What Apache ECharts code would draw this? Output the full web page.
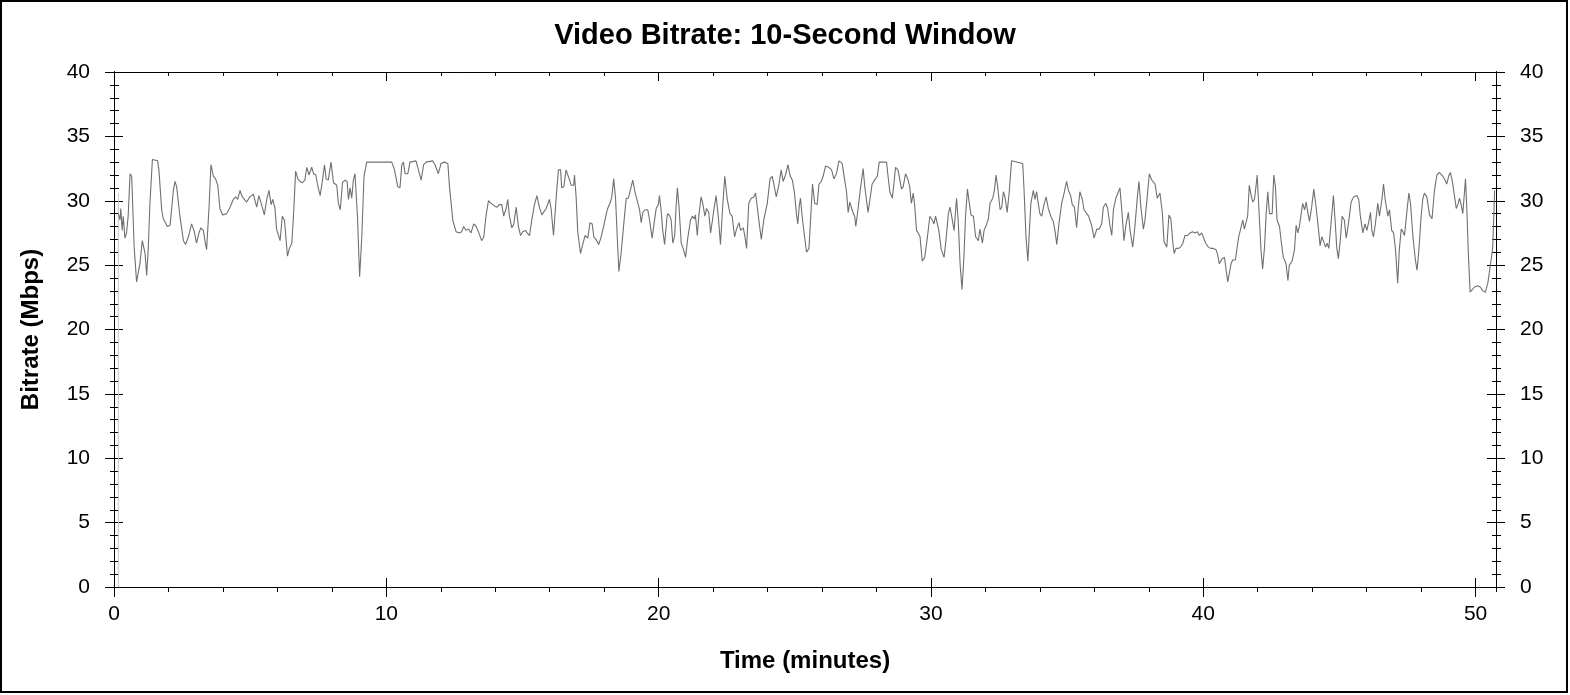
<!DOCTYPE html>
<html>
<head>
<meta charset="utf-8">
<script src="https://cdn.jsdelivr.net/npm/echarts@6/dist/echarts.min.js"></script>
<style>
html,body{margin:0;padding:0;background:#fff;}
#chart{width:1570px;height:695px;}
</style>
</head>
<body>
<div id="chart"></div>
<script>
// Bitrate (Mbps) vs time (minutes)
const seg0to10 = [[0.16,29.0],[0.22,28.5],[0.25,29.4],[0.30,27.7],[0.34,28.8],[0.40,27.1],[0.46,27.5],[0.52,28.8],[0.59,32.1],[0.65,31.9],[0.74,26.4],[0.83,23.7],[0.95,25.1],[1.04,26.9],[1.14,25.9],[1.20,24.2],[1.26,26.4],[1.32,29.8],[1.41,33.2],[1.60,33.1],[1.65,32.4],[1.75,29.3],[1.81,28.6],[1.87,28.5],[1.96,28.0],[2.06,28.1],[2.18,30.8],[2.24,31.5],[2.30,31.1],[2.42,28.8],[2.55,26.9],[2.63,26.6],[2.73,27.2],[2.85,28.2],[2.95,27.6],[3.03,26.7],[3.12,27.5],[3.19,27.9],[3.28,27.7],[3.34,26.9],[3.40,26.2],[3.49,29.5],[3.56,32.8],[3.65,31.9],[3.73,31.7],[3.81,31.2],[3.89,29.4],[3.99,28.9],[4.14,29.0],[4.26,29.5],[4.38,30.1],[4.47,30.3],[4.54,30.1],[4.63,30.8],[4.69,30.4],[4.75,30.2],[4.87,29.9],[4.99,30.3],[5.12,30.5],[5.24,29.5],[5.32,30.4],[5.42,29.7],[5.52,28.9],[5.61,30.1],[5.69,30.8],[5.77,29.7],[5.83,30.1],[5.91,29.4],[5.97,27.8],[6.10,26.9],[6.18,28.8],[6.26,28.5],[6.37,25.7],[6.44,26.3],[6.53,26.7],[6.59,28.8],[6.67,32.3],[6.75,31.7],[6.83,31.5],[6.92,31.4],[7.01,31.6],[7.08,32.6],[7.16,32.0],[7.26,32.6],[7.33,32.1],[7.41,32.0],[7.50,31.0],[7.57,30.4],[7.65,31.5],[7.73,32.8],[7.79,31.7],[7.87,31.6],[7.97,33.0],[8.06,31.4],[8.18,31.2],[8.24,29.8],[8.31,29.3],[8.39,31.4],[8.48,31.6],[8.56,31.5],[8.61,30.1],[8.67,31.0],[8.73,30.2],[8.79,31.6],[8.85,32.1],[8.94,28.8],[9.02,24.1],[9.10,27.2],[9.18,31.9],[9.28,33.0],[10.20,33.0]];
const seg10to20 = [[10.30,32.4],[10.42,31.1],[10.50,31.0],[10.57,32.8],[10.63,33.0],[10.69,32.1],[10.79,32.1],[10.87,33.0],[11.09,33.1],[11.18,32.4],[11.28,31.6],[11.37,32.8],[11.46,33.0],[11.70,33.1],[11.79,32.8],[11.91,32.1],[12.01,32.9],[12.13,33.0],[12.26,32.9],[12.32,31.1],[12.44,28.5],[12.56,27.6],[12.68,27.5],[12.77,27.6],[12.84,28.0],[12.93,27.7],[13.02,27.8],[13.11,27.5],[13.21,28.2],[13.30,28.0],[13.38,27.6],[13.50,26.9],[13.58,27.2],[13.66,28.8],[13.75,30.0],[13.85,29.8],[13.97,29.6],[14.07,29.5],[14.15,29.7],[14.24,29.7],[14.31,28.8],[14.40,29.4],[14.46,30.1],[14.52,28.8],[14.61,27.9],[14.68,28.2],[14.77,29.5],[14.85,28.0],[14.93,27.3],[15.01,27.6],[15.10,27.7],[15.17,27.5],[15.26,27.3],[15.34,28.5],[15.44,29.7],[15.53,30.4],[15.62,29.5],[15.71,28.9],[15.78,28.8],[15.87,29.4],[15.93,29.3],[15.99,30.1],[16.05,29.4],[16.14,27.3],[16.24,30.3],[16.32,32.4],[16.40,32.4],[16.44,31.0],[16.52,31.1],[16.60,32.4],[16.73,31.6],[16.79,31.2],[16.88,31.2],[16.91,32.0],[16.97,30.3],[17.03,27.6],[17.13,25.9],[17.21,26.6],[17.30,27.3],[17.40,27.1],[17.48,28.3],[17.56,28.2],[17.62,27.2],[17.70,27.0],[17.80,26.6],[17.89,27.2],[17.99,28.1],[18.07,28.9],[18.13,29.4],[18.23,29.9],[18.28,30.3],[18.35,31.7],[18.42,30.1],[18.48,27.2],[18.54,24.5],[18.62,25.9],[18.72,28.2],[18.81,30.2],[18.89,30.2],[18.97,30.9],[19.05,31.6],[19.14,30.6],[19.24,29.8],[19.30,29.3],[19.36,28.3],[19.42,29.1],[19.50,29.3],[19.60,29.3],[19.66,28.6],[19.76,27.1],[19.85,28.5],[19.91,29.4],[19.99,29.7],[20.03,30.4],[20.09,29.3],[20.15,27.7],[20.22,26.6],[20.31,28.8]];
const seg20to30 = [[20.34,29.0],[20.41,28.8],[20.46,28.5],[20.52,26.7],[20.59,27.3],[20.64,29.5],[20.69,31.0],[20.75,29.5],[20.83,26.7],[20.90,26.3],[20.99,25.6],[21.07,27.1],[21.17,28.5],[21.24,28.8],[21.32,28.6],[21.35,28.9],[21.42,27.3],[21.48,28.9],[21.56,30.3],[21.62,29.8],[21.70,28.8],[21.76,29.4],[21.84,29.1],[21.91,27.5],[21.97,27.6],[22.03,29.3],[22.11,30.4],[22.19,28.8],[22.27,26.6],[22.36,29.8],[22.43,31.9],[22.52,30.1],[22.62,29.0],[22.70,28.8],[22.79,27.2],[22.86,27.8],[22.95,28.3],[23.01,27.7],[23.11,27.9],[23.17,27.2],[23.23,26.3],[23.31,29.8],[23.40,30.2],[23.50,30.3],[23.56,30.6],[23.68,28.5],[23.77,27.0],[23.86,28.5],[23.99,29.8],[24.09,31.7],[24.17,31.9],[24.23,31.3],[24.32,30.3],[24.42,31.3],[24.50,32.4],[24.57,31.5],[24.66,32.0],[24.75,32.8],[24.82,32.0],[24.91,31.6],[24.99,30.6],[25.06,29.0],[25.11,28.2],[25.16,29.5],[25.21,30.2],[25.27,28.8],[25.36,27.2],[25.43,26.0],[25.52,26.3],[25.58,28.5],[25.65,31.3],[25.73,29.8],[25.82,29.7],[25.89,31.3],[25.97,31.5],[26.04,31.9],[26.13,32.7],[26.25,32.6],[26.35,32.4],[26.44,31.7],[26.53,32.1],[26.62,33.1],[26.74,32.9],[26.84,31.5],[26.90,30.7],[26.96,29.1],[27.02,29.9],[27.09,29.4],[27.15,29.0],[27.20,28.8],[27.24,28.0],[27.32,29.3],[27.42,31.1],[27.51,32.5],[27.57,31.1],[27.69,29.1],[27.76,30.1],[27.84,31.3],[27.93,31.6],[28.03,31.9],[28.10,33.0],[28.37,33.0],[28.42,32.0],[28.49,30.7],[28.58,30.2],[28.64,31.3],[28.70,32.6],[28.79,32.4],[28.86,31.6],[28.92,30.9],[28.98,31.1],[29.07,32.1],[29.15,31.7],[29.22,31.1],[29.28,29.8],[29.35,30.6],[29.40,29.7],[29.47,27.7],[29.53,27.5],[29.60,27.2],[29.68,25.3],[29.77,25.6],[29.86,27.0],[29.96,28.8],[30.05,28.5],[30.11,28.2],[30.17,28.8],[30.23,28.8],[30.29,27.7],[30.38,26.2],[30.45,25.8]];
const seg30to40 = [[30.48,25.6],[30.55,26.9],[30.64,29.0],[30.70,29.5],[30.76,28.8],[30.85,27.7],[30.94,30.2],[31.00,28.5],[31.07,25.1],[31.14,23.1],[31.21,25.6],[31.27,28.8],[31.34,30.9],[31.41,29.8],[31.47,28.9],[31.56,28.8],[31.64,27.2],[31.74,26.9],[31.80,27.8],[31.89,26.7],[31.95,27.7],[32.05,28.2],[32.11,28.6],[32.17,29.8],[32.27,30.2],[32.33,30.8],[32.39,32.0],[32.45,31.1],[32.54,29.3],[32.60,29.5],[32.66,30.7],[32.72,30.3],[32.80,29.1],[32.88,30.8],[32.96,33.1],[33.37,32.9],[33.42,30.8],[33.49,27.2],[33.56,25.3],[33.61,27.5],[33.67,29.8],[33.76,30.8],[33.82,30.1],[33.88,30.7],[33.94,29.8],[34.00,29.0],[34.07,28.8],[34.15,29.7],[34.23,30.3],[34.31,29.4],[34.40,28.8],[34.49,28.4],[34.56,27.6],[34.62,26.6],[34.70,28.2],[34.80,29.8],[34.89,30.6],[34.98,31.5],[35.05,30.8],[35.13,30.4],[35.19,29.7],[35.27,29.5],[35.35,27.9],[35.41,29.5],[35.47,30.7],[35.56,30.1],[35.62,29.3],[35.72,29.0],[35.79,28.8],[35.90,28.1],[35.99,27.1],[36.09,27.8],[36.18,27.8],[36.27,28.2],[36.33,29.5],[36.42,29.8],[36.49,29.4],[36.58,28.0],[36.64,27.3],[36.70,29.3],[36.79,30.2],[36.86,30.3],[36.94,31.0],[37.00,29.5],[37.09,26.9],[37.16,28.1],[37.25,29.1],[37.31,27.7],[37.41,26.4],[37.49,28.0],[37.58,30.3],[37.64,31.5],[37.71,29.5],[37.80,27.8],[37.86,28.5],[37.92,29.8],[38.02,32.1],[38.11,31.6],[38.17,31.7],[38.23,31.3],[38.31,30.2],[38.41,30.6],[38.50,29.0],[38.56,26.8],[38.66,26.4],[38.74,28.9],[38.81,28.6],[38.88,26.8],[38.93,25.9],[39.00,26.3],[39.09,26.3],[39.17,26.4],[39.25,26.7],[39.33,27.3],[39.42,27.3],[39.51,27.5],[39.61,27.6],[39.70,27.5],[39.78,27.6],[39.86,27.3],[39.94,27.5],[40.00,27.5],[40.09,26.7],[40.19,26.4],[40.27,26.3],[40.37,26.3],[40.47,26.2],[40.53,25.8],[40.59,25.1]];
const seg40toEnd = [[40.69,25.5],[40.78,25.6],[40.84,24.6],[40.90,23.7],[40.96,24.4],[41.02,25.1],[41.08,25.4],[41.18,25.4],[41.24,26.3],[41.30,27.2],[41.36,27.7],[41.45,28.5],[41.51,27.8],[41.57,27.7],[41.63,28.8],[41.69,31.2],[41.76,30.4],[41.82,29.9],[41.88,30.1],[41.94,31.2],[41.98,32.0],[42.04,29.5],[42.12,26.2],[42.18,24.7],[42.25,26.4],[42.31,29.0],[42.37,30.7],[42.43,29.0],[42.53,29.0],[42.59,32.0],[42.65,31.1],[42.71,28.5],[42.80,28.0],[42.87,26.7],[42.94,25.6],[43.04,25.1],[43.11,23.8],[43.16,25.0],[43.26,25.3],[43.35,26.2],[43.41,28.1],[43.47,27.5],[43.53,28.0],[43.59,28.9],[43.65,29.8],[43.72,29.3],[43.78,29.9],[43.84,29.1],[43.90,28.4],[43.98,29.5],[44.06,30.9],[44.12,29.9],[44.18,28.8],[44.24,27.6],[44.29,26.5],[44.35,27.2],[44.41,26.9],[44.49,26.4],[44.55,26.7],[44.61,26.3],[44.69,28.2],[44.78,30.4],[44.85,28.2],[44.90,26.4],[44.96,25.5],[45.03,26.9],[45.10,28.8],[45.18,28.5],[45.25,27.1],[45.33,28.2],[45.43,29.9],[45.52,30.3],[45.59,30.2],[45.64,30.4],[45.71,30.1],[45.77,28.8],[45.86,27.5],[45.94,28.2],[46.01,27.7],[46.08,28.4],[46.14,29.1],[46.19,27.7],[46.25,27.2],[46.32,28.2],[46.41,29.8],[46.47,28.8],[46.56,30.1],[46.62,31.3],[46.68,30.1],[46.78,28.8],[46.84,29.3],[46.92,27.7],[46.99,27.5],[47.06,26.2],[47.14,23.6],[47.20,26.2],[47.27,27.8],[47.33,27.6],[47.39,27.3],[47.47,29.0],[47.55,30.6],[47.61,29.8],[47.70,27.2],[47.79,25.4],[47.85,24.6],[47.92,26.2],[48.00,28.8],[48.06,30.1],[48.12,30.6],[48.21,30.3],[48.31,28.9],[48.40,28.6],[48.49,30.8],[48.58,32.0],[48.67,32.2],[48.80,31.9],[48.88,31.6],[48.94,31.3],[49.01,31.9],[49.07,32.2],[49.14,31.6],[49.23,30.3],[49.29,29.4],[49.35,29.7],[49.41,30.2],[49.47,29.7],[49.53,29.0],[49.59,30.6],[49.63,31.7],[49.68,29.3],[49.74,25.6],[49.80,22.9],[49.87,23.0],[49.96,23.3],[50.08,23.4],[50.17,23.3],[50.27,23.0],[50.36,22.9],[50.45,23.6],[50.51,23.7],[50.57,25.4],[50.63,26.4],[50.70,30.8]];
// light start trace
const startTrace = [[0.16,0],[0.16,30.6]];

const xMin = 0, xMax = 50.75, xMajor = 10, xMinor = 2;
const yMin = 0, yMax = 40, yMajor = 5, yMinor = 1;

const bitrate = [].concat(seg0to10, seg10to20, seg20to30, seg30to40, seg40toEnd);

const FONT = 'Arial, "Liberation Sans", sans-serif';
const black = '#000';

function xAx(opts) {
  return Object.assign({
    type: 'value', min: xMin, max: xMax, interval: xMajor, position: 'bottom',
    axisLine: { show: true, onZero: false, lineStyle: { color: black, width: 1 } },
    axisTick: { show: true, inside: false, length: 10, lineStyle: { color: black } },
    axisLabel: { show: false },
    splitLine: { show: false }
  }, opts);
}
function yAx(opts) {
  return Object.assign({
    type: 'value', min: yMin, max: yMax, interval: yMajor, position: 'left',
    axisLine: { show: true, onZero: false, lineStyle: { color: black, width: 1 } },
    axisTick: { show: true, inside: false, length: 9, lineStyle: { color: black } },
    axisLabel: { show: false },
    splitLine: { show: false }
  }, opts);
}

const chart = echarts.init(document.getElementById('chart'), null, { renderer: 'canvas' });
chart.setOption({
  animation: false,
  backgroundColor: '#fff',
  title: {
    text: 'Video Bitrate: 10-Second Window',
    left: 'center', top: 16,
    textStyle: { fontFamily: FONT, fontSize: 29, fontWeight: 'bold', color: black }
  },
  grid: { left: 114, right: 74, top: 72, bottom: 108, containLabel: false },
  xAxis: [
    xAx({
      axisLabel: { show: true, showMaxLabel: false, fontFamily: FONT, fontSize: 21, color: black, margin: 17 },
      name: 'Time (minutes)', nameLocation: 'middle', nameGap: 62,
      nameTextStyle: { fontFamily: FONT, fontSize: 24, fontWeight: 'bold', color: black }
    }),
    xAx({ axisTick: { show: true, inside: true, length: 9, lineStyle: { color: black } } }),
    xAx({ interval: xMinor, axisTick: { show: true, inside: false, length: 5, lineStyle: { color: black } } }),
    xAx({ position: 'top', interval: xMinor, axisTick: { show: true, inside: true, length: 4, lineStyle: { color: black } } }),
    xAx({ position: 'top', axisTick: { show: true, inside: true, length: 9, lineStyle: { color: black } } })
  ],
  yAxis: [
    yAx({
      axisLabel: { show: true, fontFamily: FONT, fontSize: 21, color: black, margin: 24 },
      name: 'Bitrate (Mbps)', nameLocation: 'middle', nameGap: 71, nameRotate: 90,
      nameTextStyle: { fontFamily: FONT, fontSize: 24, fontWeight: 'bold', color: black }
    }),
    yAx({ axisTick: { show: true, inside: true, length: 9, lineStyle: { color: black } } }),
    yAx({ interval: yMinor, axisTick: { show: true, inside: false, length: 4, lineStyle: { color: black } } }),
    yAx({ interval: yMinor, axisTick: { show: true, inside: true, length: 5, lineStyle: { color: black } } }),
    yAx({ position: 'right',
      axisLabel: { show: true, fontFamily: FONT, fontSize: 21, color: black, margin: 24 } }),
    yAx({ position: 'right', axisTick: { show: true, inside: true, length: 9, lineStyle: { color: black } } }),
    yAx({ position: 'right', interval: yMinor, axisTick: { show: true, inside: false, length: 5, lineStyle: { color: black } } }),
    yAx({ position: 'right', interval: yMinor, axisTick: { show: true, inside: true, length: 4, lineStyle: { color: black } } })
  ],
  series: [
    {
      type: 'line', data: startTrace, xAxisIndex: 0, yAxisIndex: 0,
      showSymbol: false, symbol: 'none', silent: true,
      lineStyle: { color: '#c8c8c8', width: 1 }
    },
    {
      type: 'line', data: bitrate, xAxisIndex: 0, yAxisIndex: 0,
      showSymbol: false, symbol: 'none', silent: true,
      lineStyle: { color: '#707070', width: 1.1 }
    }
  ],
  graphic: [
    { type: 'rect', shape: { x: 1, y: 1, width: 1566, height: 691 },
      style: { fill: 'none', stroke: black, lineWidth: 2 }, silent: true, z: 100 }
  ]
});
</script>
</body>
</html>
